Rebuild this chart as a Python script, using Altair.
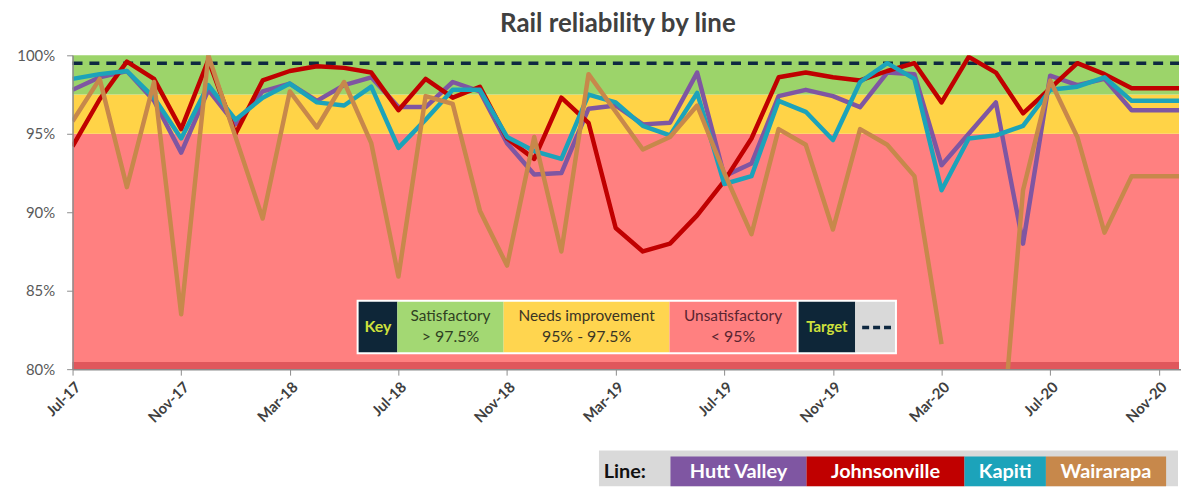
import altair as alt
import pandas as pd

# ---------------- data ----------------
months = ["Jul-17", "Aug-17", "Sep-17", "Oct-17", "Nov-17", "Dec-17",
          "Jan-18", "Feb-18", "Mar-18", "Apr-18", "May-18", "Jun-18",
          "Jul-18", "Aug-18", "Sep-18", "Oct-18", "Nov-18", "Dec-18",
          "Jan-19", "Feb-19", "Mar-19", "Apr-19", "May-19", "Jun-19",
          "Jul-19", "Aug-19", "Sep-19", "Oct-19", "Nov-19", "Dec-19",
          "Jan-20", "Feb-20", "Mar-20", "Apr-20", "May-20", "Jun-20",
          "Jul-20", "Aug-20", "Sep-20", "Oct-20", "Nov-20", "Dec-20"]
tick_labels = ["Jul-17", "Nov-17", "Mar-18", "Jul-18", "Nov-18", "Mar-19",
               "Jul-19", "Nov-19", "Mar-20", "Jul-20", "Nov-20"]
y_ticks = [80, 85, 90, 95, 100]

hutt_valley = [97.8, 98.6, 99.0, 97.1, 93.8, 97.8, 95.6, 97.7, 98.2, 97.1, 98.1,
               98.6, 96.7, 96.7, 98.3, 97.7, 94.4, 92.4, 92.5, 96.6, 96.8,
               95.6, 95.7, 98.9, 92.3, 93.1, 97.4, 97.8, 97.4, 96.7, 98.9,
               98.8, 93.0, 95.0, 97.0, 88.0, 98.7, 98.1, 98.5, 96.5, 96.5, 96.5]
johnsonville = [94.2, 97.2, 99.6, 98.5, 95.3, 99.7, 95.0, 98.4, 99.0, 99.3, 99.2,
                98.9, 96.5, 98.5, 97.3, 98.0, 94.7, 93.4, 97.3, 95.7, 89.0,
                87.5, 88.0, 89.8, 92.0, 94.7, 98.6, 98.9, 98.6, 98.4, 99.0,
                99.5, 97.0, 99.9, 98.9, 96.3, 97.9, 99.5, 98.8, 97.9, 97.9, 97.9]
kapiti = [98.5, 98.8, 99.0, 97.3, 94.7, 98.1, 95.9, 97.3, 98.2, 97.0, 96.8,
          98.0, 94.1, 95.9, 97.8, 97.8, 94.8, 93.9, 93.4, 97.5, 97.0,
          95.5, 94.9, 97.6, 91.8, 92.3, 97.1, 96.4, 94.6, 98.3, 99.5,
          98.5, 91.4, 94.7, 94.9, 95.5, 97.8, 98.0, 98.6, 97.1, 97.1, 97.1]
wairarapa = [95.8, 98.5, 91.6, 98.3, 83.5, 100.0, 94.8, 89.6, 97.7, 95.4, 98.3,
             94.4, 85.9, 97.4, 96.9, 90.1, 86.6, 94.8, 87.5, 98.8, 96.4,
             94.0, 94.8, 96.8, 92.5, 88.6, 95.3, 94.3, 88.9, 95.3, 94.3,
             92.3, 81.6, None, 71.0, 91.4, 98.4, 94.8, 88.7, 92.3, 92.3, 92.3]

line_names = ["Hutt Valley", "Johnsonville", "Kapiti", "Wairarapa"]
line_values = [hutt_valley, johnsonville, kapiti, wairarapa]
line_colors = ["#7F56A2", "#C00000", "#1CA3BA", "#C7884B"]

band_lower = [80, 95, 97.5]
band_upper = [95, 97.5, 100]
band_colors = ["#FF8080", "#FFD347", "#9CD46A"]
target = [99.5]

chart_title = "Rail reliability by line"
key_titles = ["Satisfactory", "Needs improvement", "Unsatisfactory"]
key_ranges = ["> 97.5%", "95% - 97.5%", "< 95%"]

# ---------------- layout ----------------
W, H = 1114, 316
FONT = "Lato"
NAVY = "#0E2638"
KEYTXT = "#CFE03C"

yscale = alt.Scale(domain=[80, 100], nice=False, zero=False)
xscale = alt.Scale(type="point", domain=months, range=[0, 1121], padding=0)
yaxis = alt.Axis(values=y_ticks, labelExpr="datum.value + '%'", title=None,
                 labelFontSize=15, labelColor="#595959", labelFont=FONT,
                 tickSize=6, tickColor="#8C8C8C", domainColor="#8C8C8C",
                 domainWidth=1.5, labelPadding=12, grid=False, zindex=1)
xaxis = alt.Axis(values=tick_labels, labelAngle=-45, labelAlign="right",
                 labelBaseline="top", labelFontSize=15, labelFont=FONT,
                 labelFontWeight="bold", labelColor="#404040", tickSize=6,
                 tickColor="#8C8C8C", domainColor="#8C8C8C", domainWidth=1.5,
                 labelPadding=4, title=None, grid=False, zindex=1)

one = alt.Data(values=[{"a": 1}])

bands_df = pd.DataFrame({"lo": band_lower, "hi": band_upper, "c": band_colors})
bands = alt.Chart(bands_df).mark_rect().encode(
    x=alt.value(0), x2=alt.value(W),
    y=alt.Y("lo:Q", scale=yscale, axis=yaxis), y2="hi:Q",
    color=alt.Color("c:N", scale=None),
)
bevel = alt.Chart(pd.DataFrame({"lo": [band_lower[0]], "hi": [band_lower[0] + 0.45]})).mark_rect(
    color="#E0575C").encode(
    x=alt.value(0), x2=alt.value(W),
    y=alt.Y("lo:Q", scale=yscale, axis=yaxis), y2="hi:Q",
)

target_rule = alt.Chart(pd.DataFrame({"t": target})).mark_rule(
    color="#0E2841", strokeWidth=3.5, strokeDash=[10, 7]).encode(
    x=alt.value(0), x2=alt.value(W),
    y=alt.Y("t:Q", scale=yscale, axis=yaxis),
)

line_layers = []
for name, vals, col in zip(line_names, line_values, line_colors):
    df = pd.DataFrame({"month": months, "value": vals, "line": name})
    line_layers.append(
        alt.Chart(df).mark_line(strokeWidth=4.5, clip=True, color=col,
                                strokeJoin="round",
                                invalid="break-paths-show-domains").encode(
            x=alt.X("month:O", scale=xscale, axis=xaxis),
            y=alt.Y("value:Q", scale=yscale, axis=yaxis),
            tooltip=["line:N", "month:O", "value:Q"],
        )
    )


def box(x1, x2, y1, y2, color):
    return alt.Chart(one).mark_rect(color=color).encode(
        x=alt.value(x1), x2=alt.value(x2), y=alt.value(y1), y2=alt.value(y2))


def label(x, y, text, size=14, color="#333333", weight="normal", align="center"):
    return alt.Chart(one).mark_text(text=text, font=FONT, fontSize=size, color=color,
                                    fontWeight=weight, align=align,
                                    baseline="middle").encode(
        x=alt.value(x), y=alt.value(y))


title_layer = label(549, -31, chart_title, size=26, color="#404040", weight="bold")

# Key legend inside the plot
kt, kb = 248, 299
key_layers = [
    box(286, 830, 246, 301, "#FFFFFF"),
    box(288, 327, kt, kb, NAVY),
    box(327, 434, kt, kb, "#A3D873"),
    box(434, 601, kt, kb, "#FFD54F"),
    box(601, 729, kt, kb, "#FF8080"),
    box(731, 788, kt, kb, NAVY),
    box(788, 828, kt, kb, "#D9D9D9"),
    label(307.5, 274, "Key", size=16, color=KEYTXT, weight="bold"),
]
key_text_colors = ["#2F3F22", "#3A3424", "#5A2430"]
for cx, t, r, tc in zip([380.5, 517.5, 665], key_titles, key_ranges, key_text_colors):
    key_layers.append(label(cx, 263, t, size=15.5, color=tc))
    key_layers.append(label(cx, 284, r, size=16, color=tc))
key_layers.append(label(759.5, 274, "Target", size=15, color=KEYTXT, weight="bold"))
key_layers.append(
    alt.Chart(one).mark_rule(color="#0E2841", strokeWidth=3.5, strokeDash=[7, 4]).encode(
        x=alt.value(795), x2=alt.value(824), y=alt.value(274)))

# Line legend below the chart
lt, lb = 404, 434
legend_layers = [box(530, 1113, 398, 434, "#D9D9D9"),
                 label(556, 420, "Line:", size=20, color="#111111", weight="bold")]
edges = [602, 739, 898, 980, 1101]
for i, (name, col) in enumerate(zip(line_names, line_colors)):
    legend_layers.append(box(edges[i], edges[i + 1], lt, lb, col))
    legend_layers.append(label((edges[i] + edges[i + 1]) / 2, 420, name, size=20,
                               color="#FFFFFF", weight="bold"))

chart = alt.layer(
    bands, bevel, target_rule, *line_layers, *key_layers, *legend_layers, title_layer
).properties(
    width=W, height=H,
    autosize=alt.AutoSizeParams(type="none"),
    padding={"left": 65, "top": 46, "right": 2, "bottom": 118},
).configure_view(stroke=None)

chart.save("out.html", embed_options={"renderer": "svg", "actions": False})
